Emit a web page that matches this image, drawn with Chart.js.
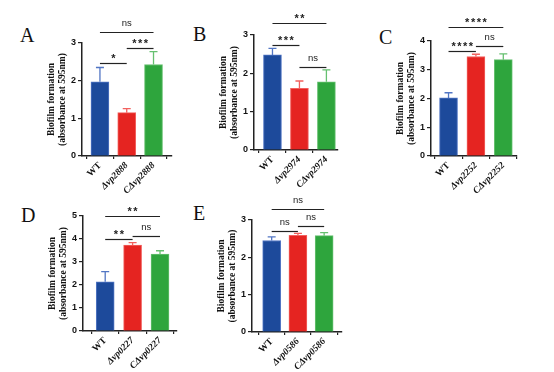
<!DOCTYPE html>
<html lang="en">
<head>
<meta charset="UTF-8">
<title>Biofilm formation</title>
<script src="https://cdn.jsdelivr.net/npm/chart.js"></script>
<style>
  body { margin: 0; background: #fff; }
  #wrap { position: relative; width: 554px; height: 372px; overflow: hidden; }
  canvas { position: absolute; }
  .letter { position: absolute; font-family: 'Liberation Serif', serif; font-size: 20px; line-height: 20px; color: #111; }
</style>
</head>
<body>
<div id="wrap">
  <div class="letter" style="left:20px;top:25px">A</div>
  <div class="letter" style="left:193px;top:24px">B</div>
  <div class="letter" style="left:379px;top:27px">C</div>
  <div class="letter" style="left:21px;top:205px">D</div>
  <div class="letter" style="left:193px;top:203px">E</div>
  <canvas id="cA" width="134" height="186" style="left:40px;top:10px"></canvas>
  <canvas id="cB" width="128" height="185" style="left:212px;top:5px"></canvas>
  <canvas id="cC" width="130" height="191" style="left:389px;top:5px"></canvas>
  <canvas id="cD" width="138" height="176" style="left:41px;top:195px"></canvas>
  <canvas id="cE" width="134" height="177" style="left:210px;top:195px"></canvas>
</div>
<script>
  // bar fill / edge colours: WT, deletion, complement
  const colors = ['#1d4a9b', '#e52421', '#2ea53d'];
  const edges  = ['#5276c4', '#f2615e', '#66c070'];

  // A
  const labelsA = ['WT', 'Δvp2888', 'CΔvp2888'];
  const meanA = [1.97, 1.15, 2.43];
  const sdA   = [0.38, 0.11, 0.34];
  const sigA  = [[0, 2, 3.28, 'ns'], [0, 1, 2.46, '*'], [1, 2, 2.86, '***']];
  // B
  const labelsB = ['WT', 'Δvp2974', 'CΔvp2974'];
  const meanB = [2.48, 1.61, 1.78];
  const sdB   = [0.17, 0.19, 0.31];
  const sigB  = [[0, 2, 3.31, '**'], [0, 1, 2.74, '***'], [1, 2, 2.17, 'ns']];
  // C
  const labelsC = ['WT', 'Δvp2252', 'CΔvp2252'];
  const meanC = [2.02, 3.46, 3.35];
  const sdC   = [0.18, 0.08, 0.2];
  const sigC  = [[0, 2, 4.47, '****'], [0, 1, 3.65, '****'], [1, 2, 3.83, 'ns']];
  // D
  const labelsD = ['WT', 'Δvp0227', 'CΔvp0227'];
  const meanD = [2.14, 3.74, 3.34];
  const sdD   = [0.44, 0.1, 0.15];
  const sigD  = [[0, 2, 5.02, '**'], [0, 1, 3.99, '**'], [1, 2, 4.13, 'ns']];
  // E
  const labelsE = ['WT', 'Δvp0586', 'CΔvp0586'];
  const meanE = [2.45, 2.59, 2.58];
  const sdE   = [0.1, 0.05, 0.08];
  const sigE  = [[0, 2, 3.3, 'ns'], [0, 1, 2.71, 'ns'], [1, 2, 2.84, 'ns']];

  const panels = [
    { id: 'cA', labels: labelsA, mean: meanA, sd: sdA, sig: sigA, yMax: 3, xMin: -0.67, xMax: 2.69, padTop: 33 },
    { id: 'cB', labels: labelsB, mean: meanB, sd: sdB, sig: sigB, yMax: 3, xMin: -0.685, xMax: 2.43, padTop: 30 },
    { id: 'cC', labels: labelsC, mean: meanC, sd: sdC, sig: sigC, yMax: 4, xMin: -0.64, xMax: 2.5, padTop: 36 },
    { id: 'cD', labels: labelsD, mean: meanD, sd: sdD, sig: sigD, yMax: 5, xMin: -0.81, xMax: 2.62, padTop: 21 },
    { id: 'cE', labels: labelsE, mean: meanE, sd: sdE, sig: sigE, yMax: 3, xMin: -0.75, xMax: 2.68, padTop: 25 }
  ];

  // error bars (mean + SD, upward only) and significance brackets
  function extras(p) {
    return {
      id: 'extras',
      afterDatasetsDraw(chart) {
        const ctx = chart.ctx, xs = chart.scales.x, ys = chart.scales.y;
        const bars = chart.getDatasetMeta(0).data;
        ctx.save();
        ctx.lineWidth = 1.3;
        bars.forEach((bar, i) => {
          const top = ys.getPixelForValue(p.mean[i] + p.sd[i]);
          ctx.strokeStyle = edges[i];
          ctx.beginPath();
          ctx.moveTo(bar.x, bar.y);
          ctx.lineTo(bar.x, top);
          ctx.moveTo(bar.x - 4, top);
          ctx.lineTo(bar.x + 4, top);
          ctx.stroke();
        });
        ctx.strokeStyle = '#222';
        ctx.fillStyle = '#222';
        ctx.lineWidth = 1.2;
        ctx.textAlign = 'center';
        ctx.textBaseline = 'alphabetic';
        p.sig.forEach(([a, b, v, txt]) => {
          const x1 = xs.getPixelForValue(a), x2 = xs.getPixelForValue(b);
          const py = Math.round(ys.getPixelForValue(v)) + 0.5;
          ctx.beginPath();
          ctx.moveTo(x1, py);
          ctx.lineTo(x2, py);
          ctx.stroke();
          if (txt === 'ns') {
            ctx.font = '9.5px "Liberation Sans"';
            ctx.letterSpacing = '0px';
            ctx.fillText(txt, (x1 + x2) / 2, py - 6.5);
          } else {
            ctx.font = 'bold 11px "Liberation Sans"';
            ctx.letterSpacing = '1.5px';
            ctx.fillText(txt, (x1 + x2) / 2 + 0.75, py - 1.5);
          }
        });
        ctx.restore();
      }
    };
  }

  panels.forEach(p => {
    new Chart(document.getElementById(p.id), {
      type: 'bar',
      data: {
        datasets: [{
          data: p.mean.map((v, i) => ({ x: i, y: v })),
          backgroundColor: colors,
          borderColor: edges,
          borderWidth: 1,
          barThickness: 18
        }]
      },
      options: {
        responsive: false,
        animation: false,
        layout: { padding: { top: p.padTop, left: 0, right: 2, bottom: 0 } },
        plugins: { legend: { display: false }, tooltip: { enabled: false } },
        scales: {
          x: {
            type: 'linear', min: p.xMin, max: p.xMax, offset: false,
            afterBuildTicks: s => { s.ticks = p.labels.map((_, i) => ({ value: i })); },
            afterFit: s => { s.height = 40; s.paddingLeft = 0; s.paddingRight = 0; },
            ticks: {
              autoSkip: false, minRotation: 45, maxRotation: 45, padding: 1, color: '#111',
              callback: v => p.labels[v],
              font: c => ({ family: '"Liberation Serif"', size: 9.5, weight: 'bold', style: c.index ? 'italic' : 'normal' })
            },
            grid: { drawOnChartArea: false, tickLength: 3, color: '#222', lineWidth: 1.2 },
            border: { color: '#222', width: 1.5 }
          },
          y: {
            min: 0, max: p.yMax,
            afterFit: s => { s.width = 42; s.paddingTop = 0; s.paddingBottom = 0; },
            ticks: { stepSize: 1, padding: 2, color: '#111', font: { family: '"Liberation Sans"', size: 9, weight: 'bold' } },
            grid: { drawOnChartArea: false, tickLength: 4, color: '#222', lineWidth: 1.2 },
            border: { color: '#222', width: 1.5 },
            title: {
              display: true,
              text: ['Biofilm formation', '(absorbance at 595nm)'],
              color: '#111',
              font: { family: '"Liberation Serif"', size: 9.5, weight: 'bold', lineHeight: 1.15 },
              padding: { top: 6.5, bottom: 0 }
            }
          }
        }
      },
      plugins: [extras(p)]
    });
  });
</script>
</body>
</html>
